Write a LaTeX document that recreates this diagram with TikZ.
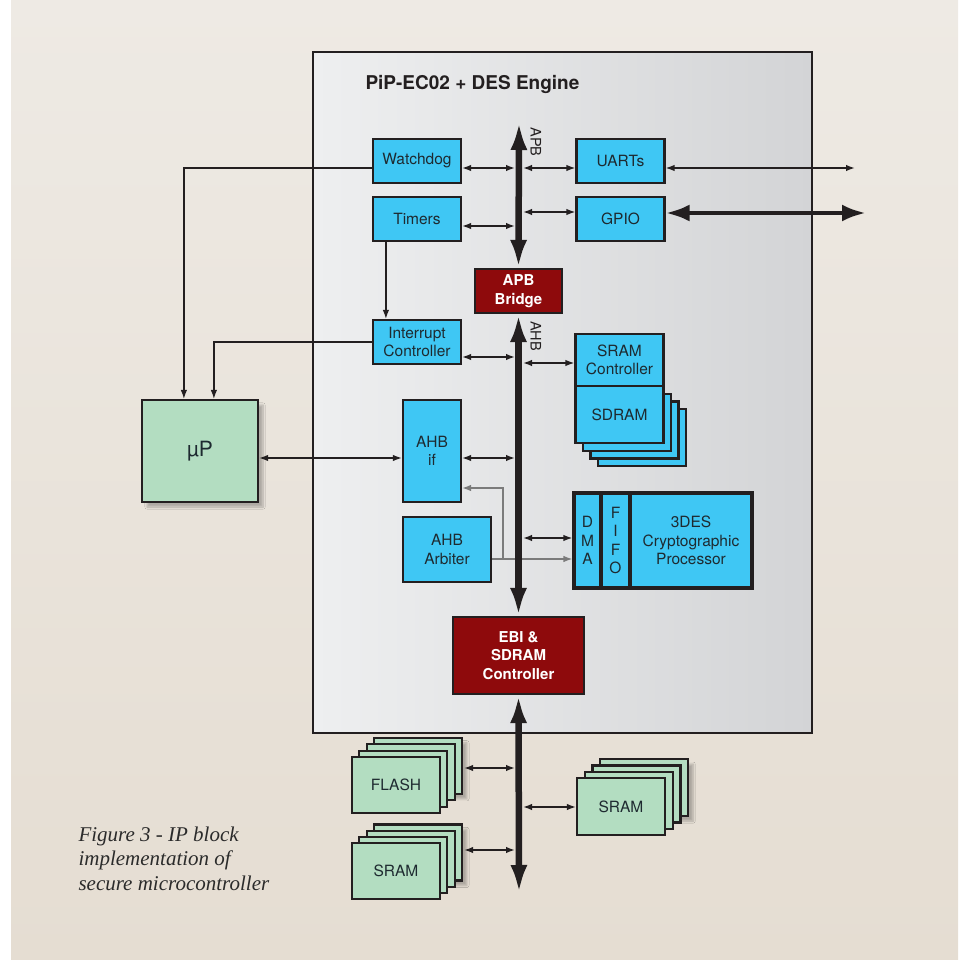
\documentclass[tikz,border=0pt]{standalone}
\usepackage{fontspec}
\setmainfont{TeX Gyre Heros}
\newfontfamily\captionserif{Liberation Serif}
\usetikzlibrary{arrows.meta,calc,shadows.blur}
\definecolor{ink}{HTML}{231F20}
\definecolor{boxtext}{HTML}{1E2A30}
\definecolor{paperlight}{HTML}{EEEAE4}
\definecolor{paper}{HTML}{E5DDD2}
\definecolor{chiplight}{HTML}{EEEFF0}
\definecolor{chipdark}{HTML}{D3D4D6}
\definecolor{ipblue}{HTML}{3FC7F4}
\definecolor{bridgered}{HTML}{8E0A0C}
\definecolor{memgreen}{HTML}{B3DDC1}
\definecolor{sidewire}{HTML}{7B7B7B}
\definecolor{captionink}{HTML}{2B2B2B}

\begin{document}
\begin{tikzpicture}[
  x=1pt,
  y=-1pt,
  >=Latex,
  chipbox/.style={draw=ink, line width=2.4pt, left color=chiplight, right color=chipdark, inner sep=0pt},
  block/.style={draw=ink, line width=2.2pt, fill=ipblue, text=boxtext, inner sep=0pt,
    align=center, font=\fontsize{15.5}{18.5}\selectfont},
  desblock/.style={block, line width=3.2pt},
  bridge/.style={draw=ink, line width=2.2pt, fill=bridgered, text=white, inner sep=0pt,
    align=center, font=\bfseries\fontsize{15}{18.5}\selectfont},
  memory/.style={draw=ink, line width=2.2pt, fill=memgreen, text=boxtext, inner sep=0pt,
    align=center, font=\fontsize{15.5}{18.5}\selectfont},
  memshadow/.style={blur shadow={shadow xshift=5pt, shadow yshift=-5pt, shadow opacity=25, shadow blur steps=6}},
  link/.style={draw=ink, line width=1.5pt, {Latex[length=9pt,width=6.5pt]}-{Latex[length=9pt,width=6.5pt]}},
  widelink/.style={draw=ink, line width=4.5pt, {Latex[length=24pt,width=17pt]}-{Latex[length=24pt,width=17pt]}},
  wire/.style={draw=ink, line width=1.3pt, -{Latex[length=9pt,width=6.5pt]}},
  greywire/.style={draw=sidewire, line width=1.3pt, -{Latex[length=9pt,width=6.5pt]}},
  bus/.style={draw=ink, line width=6.5pt, {Latex[length=28pt,width=17pt]}-{Latex[length=28pt,width=17pt]}},
  buslabel/.style={text=ink, rotate=-90, inner sep=0pt, font=\fontsize{14.5}{14.5}\selectfont}
]
  \useasboundingbox (0,0) rectangle (964,960);

  % Paper behind the figure.
  \shade[top color=paperlight, bottom color=paper] (11,0) rectangle (958,960);

  % The chip outline.
  \node[chipbox, minimum width=499pt, minimum height=681pt] (chip) at (562.5,392.5) {};
  \node[anchor=west, text=ink, font=\bfseries\fontsize{19}{19}\selectfont] (title)
    at (362,84) {PiP-EC02 + DES Engine};

  % APB side.
  \node[block, minimum width=88pt, minimum height=44pt] (wdog) at (417,161) {Watchdog};
  \node[block, minimum width=88pt, minimum height=44pt] (timers) at (417,219) {Timers};
  \node[block, minimum width=88pt, minimum height=44pt] (uarts) at (620.5,161) {UARTs};
  \node[block, minimum width=88pt, minimum height=44pt] (gpio) at (620.5,219) {GPIO};
  \node[bridge, minimum width=87pt, minimum height=44pt] (apbbr) at (518.5,291) {APB\\Bridge};

  % AHB side.
  \node[block, minimum width=88pt, minimum height=44pt] (irq) at (417,342) {Interrupt\\Controller};
  \foreach \k in {3,2,1}
    \node[block, minimum width=88pt, minimum height=57pt] at (619.5+7.5*\k,414.5+7.7*\k) {};
  \node[block, minimum width=88pt, minimum height=57pt] (sdram) at (619.5,414.5) {SDRAM};
  \node[block, minimum width=88pt, minimum height=52pt] (sramctl) at (619.5,360) {SRAM\\Controller};
  \node[memory, memshadow, minimum width=116pt, minimum height=102pt,
    font=\fontsize{21}{21}\selectfont] (up) at (200,451) {µP};
  \node[block, minimum width=58pt, minimum height=102pt] (ahbif) at (432,451) {AHB\\if};
  \node[block, minimum width=88pt, minimum height=65pt] (arbiter) at (447,549.5) {AHB\\Arbiter};
  \node[desblock, minimum width=27pt, minimum height=95pt] (dma) at (587.5,540.5) {D\\M\\A};
  \node[desblock, minimum width=29pt, minimum height=95pt] (fifo) at (615.5,540.5) {F\\I\\F\\O};
  \node[desblock, minimum width=122pt, minimum height=95pt] (des) at (691,540.5)
    {3DES\\Cryptographic\\Processor};
  \node[bridge, minimum width=131pt, minimum height=77pt] (ebi) at (518.5,655.5)
    {EBI \&\\SDRAM\\Controller};

  % External memories.
  \node[memory, memshadow, minimum width=88pt, minimum height=56pt] at (396+7.3*3,785-6.4*3) {};
  \foreach \k in {2,1}
    \node[memory, minimum width=88pt, minimum height=56pt] at (396+7.3*\k,785-6.4*\k) {};
  \node[memory, minimum width=88pt, minimum height=56pt] (flash) at (396,785) {FLASH};
  \node[memory, memshadow, minimum width=88pt, minimum height=56pt] at (396+7.3*3,871-6.2*3) {};
  \foreach \k in {2,1}
    \node[memory, minimum width=88pt, minimum height=56pt] at (396+7.3*\k,871-6.2*\k) {};
  \node[memory, minimum width=88pt, minimum height=56pt] (sramlow) at (396,871) {SRAM};
  \node[memory, memshadow, minimum width=88pt, minimum height=57pt] at (621+7.7*3,806.5-6.3*3) {};
  \foreach \k in {2,1}
    \node[memory, minimum width=88pt, minimum height=57pt] at (621+7.7*\k,806.5-6.3*\k) {};
  \node[memory, minimum width=88pt, minimum height=57pt] (sramright) at (621,806.5) {SRAM};

  % Bus taps, just off the bus line.
  \coordinate (wdogtap) at (515,168);
  \coordinate (uarttap) at (523,168);
  \coordinate (timertap) at (515,226);
  \coordinate (gpiotap) at (523,212);
  \coordinate (irqtap) at (515,357);
  \coordinate (sramtap) at (523,363);
  \coordinate (iftap) at (515,458);
  \coordinate (dmatap) at (523,538);
  \coordinate (flashtap) at (515,768);
  \coordinate (sramlowtap) at (515,850);
  \coordinate (sramrighttap) at (523,807);
  \coordinate (uartout) at (855,168);
  \coordinate (gpioout) at (866,213);
  \coordinate (apbtop) at (519,122);
  \coordinate (extbot) at (519,893);
  \coordinate (arbbend) at (503,559);
  \coordinate (ifbend) at (503,488);

  % Arbiter grant lines run under the bus.
  \draw[greywire] (arbiter.east |- arbbend) -- (arbbend) -- (ifbend) -- (ahbif.east |- ifbend);
  \draw[greywire] (arbbend) -- (dma.west |- arbbend);

  % Buses.
  \draw[bus] (apbtop) -- (apbbr.north);
  \draw[bus] (apbbr.south) -- (ebi.north);
  \draw[bus] (ebi.south) -- (extbot);
  \node[buslabel] (apblabel) at (536,142) {APB};
  \node[buslabel] (ahblabel) at (536,336) {AHB};

  % Links to the buses.
  \draw[link] (wdog.east |- wdogtap) -- (wdogtap);
  \draw[link] (uarttap) -- (uarts.west |- uarttap);
  \draw[link] (timers.east |- timertap) -- (timertap);
  \draw[link] (gpiotap) -- (gpio.west |- gpiotap);
  \draw[link] (irq.east |- irqtap) -- (irqtap);
  \draw[link] (sramtap) -- (sramctl.west |- sramtap);
  \draw[link] (ahbif.east |- iftap) -- (iftap);
  \draw[link] (dmatap) -- (dma.west |- dmatap);
  \draw[link] ($(flash.east |- flashtap)+(23,0)$) -- (flashtap);
  \draw[link] ($(sramlow.east |- sramlowtap)+(23,0)$) -- (sramlowtap);
  \draw[link] (sramrighttap) -- (sramright.west |- sramrighttap);
  \draw[link] (up.east |- iftap) -- (ahbif.west |- iftap);

  % Off-chip ports.
  \draw[link] (uarts.east |- uartout) -- (uartout);
  \draw[widelink] (gpio.east |- gpioout) -- (gpioout);

  % Interrupt lines to the processor.
  \draw[wire] (wdog.west |- wdogtap) -| ($(up.north west)+(43,0)$);
  \draw[wire] ($(timers.south west)+(14,0)$) -- ($(irq.north west)+(14,0)$);
  \draw[wire] (irq.west) -| ($(up.north west)+(73,0)$);

  \node[anchor=north west, align=left, text=captionink,
    font=\captionserif\itshape\fontsize{21}{24.5}\selectfont] (caption)
    at (75,823) {Figure 3 - IP block\\implementation of\\secure microcontroller};
\end{tikzpicture}
\end{document}
